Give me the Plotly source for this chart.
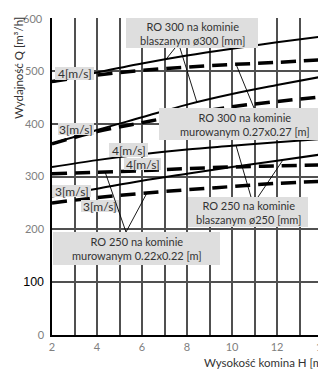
import plotly.graph_objects as go
import numpy as np

# ---- data ----
heights = [2, 4, 6, 8, 10, 12, 14]
ro300_blach_4 = [479, 497, 514, 529, 542, 554, 565]
ro300_mur_4 = [480, 492, 501, 507, 512, 516, 521]
ro300_blach_3 = [362, 388, 412, 436, 456, 473, 489]
ro300_mur_3 = [362, 385, 402, 418, 432, 442, 451]
ro250_blach_4 = [318, 331, 342, 351, 358, 365, 371]
ro250_mur_4 = [305, 308, 311, 315, 318, 320, 322]
ro250_blach_3 = [262, 277, 292, 305, 318, 330, 342]
ro250_mur_3 = [250, 260, 268, 275, 281, 287, 291]

x_ticks = [2, 3, 4, 5, 6, 7, 8, 9, 10, 11, 12, 13, 14]
y_ticks = [0, 100, 200, 300, 400, 500]

W, H = 318, 370
L, R, T, B = 52, 0, 18, 35
X0, X_UNIT = 2, 22.5       # px per 1 m
Y_UNIT = (H - B - T) / 600.0


def px2x(px):
    return X0 + (px - L) / X_UNIT


def px2y(py):
    return (H - B - py) / Y_UNIT


XMAX = px2x(W)

fig = go.Figure()

solid = dict(color="black", width=2)
dashed = dict(color="black", width=3.5, dash="15px,8px")
series = [
    (ro300_blach_4, solid), (ro300_mur_4, dashed),
    (ro300_blach_3, solid), (ro300_mur_3, dashed),
    (ro250_blach_4, solid), (ro250_mur_4, dashed),
    (ro250_blach_3, solid), (ro250_mur_3, dashed),
]
for vals, ln in series:
    fig.add_trace(go.Scatter(x=heights, y=vals, mode="lines", line=ln,
                             line_shape="spline", showlegend=False,
                             hoverinfo="skip"))

BOXC = "#dedede"
TXT = "#333333"
FONT = "Lato"
shapes = []
annotations = []


def box(x0, y0, x1, y1, text, size=11):
    shapes.append(dict(type="rect", xref="x", yref="y",
                       x0=px2x(x0), x1=px2x(x1), y0=px2y(y1), y1=px2y(y0),
                       fillcolor=BOXC, line=dict(width=0), layer="above"))
    annotations.append(dict(xref="x", yref="y",
                            x=px2x((x0 + x1) / 2), y=px2y((y0 + y1) / 2),
                            text=text, showarrow=False,
                            font=dict(family=FONT, size=size, color=TXT)))


def pointer(px, py, xt, vals):
    yt = float(np.interp(xt, heights, vals))
    shapes.append(dict(type="line", xref="x", yref="y",
                       x0=px2x(px), y0=px2y(py), x1=xt, y1=yt,
                       line=dict(color="black", width=0.9), layer="above"))


box(126, 18, 258, 48, "RO 300 na kominie<br>blaszanym ø300 [mm]")
box(159, 108, 330, 140, "RO 300 na kominie<br>murowanym 0.27x0.27 [m]")
box(188, 197, 308, 227, "RO 250 na kominie<br>blaszanym ø250 [mm]")
box(53, 232, 220, 265, "RO 250 na kominie<br>murowanym 0.22x0.22 [m]")
box(55, 67, 94, 80, "4[m/s]", 12)
box(58, 123, 94, 135, "3[m/s]", 12)
box(109, 143, 148, 157, "4[m/s]", 12)
box(124, 158, 161, 170, "4[m/s]", 12)
box(52, 185, 91, 197, "3[m/s]", 12)
box(81, 200, 119, 212, "3[m/s]", 12)

pointer(175, 48, 7.07, ro300_blach_4)
pointer(180, 48, 8.44, ro300_blach_3)
pointer(254, 108, 10.18, ro300_mur_4)
pointer(251, 197, 10.18, ro250_blach_4)
pointer(258, 197, 12.27, ro250_blach_3)
pointer(126, 232, 4.36, ro250_mur_4)
pointer(126, 232, 6.22, ro250_mur_3)

TICKC = "#808080"
PH = H - B - T
PW = W - L
# extra tick labels outside the axis range / without grid
annotations.append(dict(xref="paper", yref="paper", x=-7 / PW, y=1,
                        xanchor="right", yanchor="middle", text="600",
                        showarrow=False,
                        font=dict(family=FONT, size=11, color=TICKC)))
annotations.append(dict(xref="paper", yref="paper",
                        x=(12 * X_UNIT) / PW, y=-11 / PH,
                        xanchor="center", yanchor="middle", text="14",
                        showarrow=False,
                        font=dict(family=FONT, size=11, color=TICKC)))
# axis titles
annotations.append(dict(xref="paper", yref="paper",
                        x=(202 - L) / PW, y=-27 / PH,
                        xanchor="left", yanchor="middle",
                        text="Wysokość komina H [m]", showarrow=False,
                        font=dict(family=FONT, size=11.5, color=TXT)))
annotations.append(dict(xref="paper", yref="paper",
                        x=-34 / PW, y=(PH - 50) / PH,
                        xanchor="center", yanchor="middle", textangle=-90,
                        text="Wydajność Q [m³/h]", showarrow=False,
                        font=dict(family=FONT, size=11.5, color=TXT)))

x_text = [str(v) if v % 2 == 0 else "" for v in x_ticks]
y_text = []
for v in y_ticks:
    if v == 100:
        y_text.append('<span style="color:black;font-family:Liberation Sans;'
                      'font-size:12.5px">100</span>')
    else:
        y_text.append(str(v))

GRID = "#505050"
fig.update_layout(
    width=W, height=H,
    margin=dict(l=L, r=R, t=T, b=B, pad=0),
    paper_bgcolor="white", plot_bgcolor="white",
    shapes=shapes, annotations=annotations,
    xaxis=dict(range=[X0, XMAX], tickmode="array", tickvals=x_ticks,
               ticktext=x_text, showgrid=True, gridcolor=GRID, gridwidth=1.5,
               showline=True, linecolor="black", linewidth=1.5,
               zeroline=False, ticks="", ticklabelstandoff=1,
               tickfont=dict(family=FONT, size=11, color=TICKC)),
    yaxis=dict(range=[0, 600], tickmode="array", tickvals=y_ticks,
               ticktext=y_text, showgrid=True, gridcolor=GRID, gridwidth=1.5,
               showline=True, linecolor="black", linewidth=1.5,
               zeroline=False, ticks="", ticklabelstandoff=4,
               tickfont=dict(family=FONT, size=11, color=TICKC)),
)

fig.write_html("out.html", config={"displayModeBar": False},
               post_script="document.body.style.margin='0';"
                           "document.body.style.overflow='hidden';")
